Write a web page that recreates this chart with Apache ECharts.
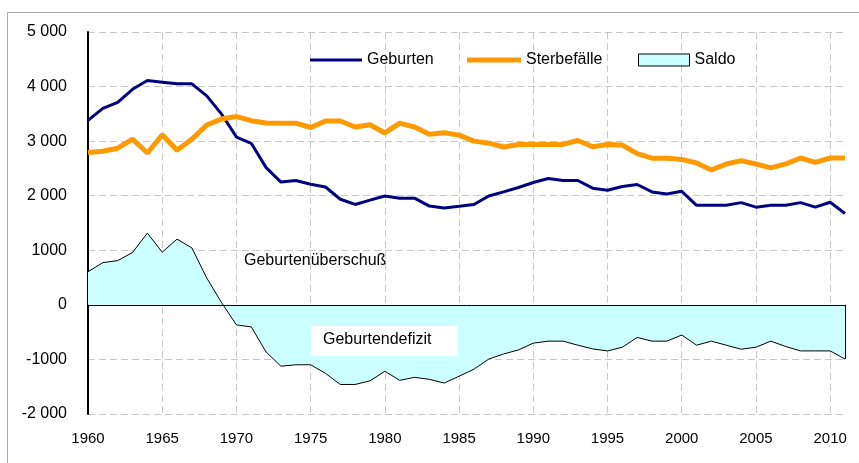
<!DOCTYPE html>
<html style="height: 100%">
<head>
<meta charset="utf-8">
<title>Geburten und Sterbefälle</title>
<script src="https://cdn.jsdelivr.net/npm/echarts@6/dist/echarts.min.js"></script>
</head>
<body style="height: 100%; margin: 0; background: #fff">
<div id="target" style="width: 859px; height: 463px"></div>
<script>
const years = Array.from({ length: 52 }, (_, i) => String(1960 + i));

const geburten = [
    3380, 3600, 3710, 3950, 4110, 4080, 4050, 4050, 3830, 3495,
    3075, 2960, 2515, 2250, 2280, 2210, 2160, 1935, 1840, 1920,
    1995, 1955, 1955, 1810, 1775, 1805, 1838, 1996, 2070, 2150,
    2242, 2315, 2279, 2279, 2138, 2101, 2169, 2205, 2070, 2030,
    2080, 1824, 1824, 1824, 1873, 1790, 1824, 1824, 1873, 1790,
    1880, 1675
];

const sterbefaelle = [
    2790, 2815, 2870, 3037, 2783, 3117, 2833, 3037, 3296, 3407,
    3450, 3375, 3333, 3330, 3330, 3250, 3370, 3370, 3260, 3300,
    3150, 3330, 3260, 3125, 3155, 3110, 3000, 2964, 2892, 2940,
    2940, 2940, 2940, 3012, 2898, 2940, 2928, 2771, 2687, 2687,
    2665, 2600, 2473, 2582, 2642, 2582, 2509, 2582, 2691, 2611,
    2691, 2691
];

const saldo = [
    607, 774, 811, 959, 1315, 965, 1204, 1043, 493, 40,
    -367, -404, -865, -1124, -1098, -1098, -1255, -1459, -1459, -1392,
    -1217, -1383, -1328, -1365, -1433, -1308, -1180, -994, -900, -826,
    -702, -665, -665, -739, -807, -844, -776, -597, -665, -665,
    -553, -739, -665, -739, -813, -776, -665, -763, -844, -844,
    -844, -994
];

const yTickLabels = ['-2 000', '-1000', '0', '1000', '2 000', '3 000', '4 000', '5 000'];
const yMin = -2000;
const yMax = 5000;
const yStep = 1000;

const FONT = '"Liberation Sans", Arial, sans-serif';
const gridLine = { show: true, lineStyle: { color: '#c8c8c8', width: 1, type: [7, 4] } };

let chart = echarts.init(document.getElementById('target'));

let option = {
    animation: false,
    backgroundColor: '#fff',
    textStyle: { fontFamily: FONT, color: '#000' },
    grid: { left: 88, right: 14, top: 32, bottom: 49, containLabel: false },
    xAxis: {
        type: 'category',
        data: years,
        boundaryGap: false,
        axisLine: { show: false },
        axisTick: { show: false },
        axisLabel: { interval: 4, fontSize: 15, color: '#000', margin: 17, fontFamily: FONT },
        splitLine: Object.assign({ interval: 4 }, gridLine),
    },
    yAxis: {
        type: 'value',
        min: yMin,
        max: yMax,
        interval: yStep,
        axisLine: { show: true, lineStyle: { color: '#000', width: 2 } },
        axisTick: { show: false },
        axisLabel: {
            fontSize: 16, color: '#000', margin: 21, fontFamily: FONT,
            formatter: v => yTickLabels[Math.round((v - yMin) / yStep)],
        },
        splitLine: gridLine,
    },
    legend: [
        {
            left: 310, top: 52, padding: 0, itemWidth: 52, itemHeight: 3, itemGap: 0,
            icon: 'rect', textStyle: { fontSize: 16, fontFamily: FONT, color: '#000' },
            data: ['Geburten'],
        },
        {
            left: 467, top: 52, padding: 0, itemWidth: 54, itemHeight: 5, itemGap: 0,
            icon: 'rect', textStyle: { fontSize: 16, fontFamily: FONT, color: '#000' },
            data: ['Sterbefälle'],
        },
        {
            left: 638, top: 52, padding: 0, itemWidth: 51, itemHeight: 12, itemGap: 0,
            icon: 'rect', textStyle: { fontSize: 16, fontFamily: FONT, color: '#000' },
            data: [{ name: 'Saldo', itemStyle: { color: '#ccffff', borderColor: '#000', borderWidth: 1 } }],
        },
    ],
    series: [
        {
            name: 'Saldo',
            type: 'line',
            data: saldo,
            symbol: 'none',
            z: 1,
            itemStyle: { color: '#ccffff' },
            lineStyle: { color: '#000', width: 1 },
            areaStyle: { color: '#ccffff', opacity: 1 },
            markLine: {
                silent: true,
                symbol: 'none',
                label: { show: false },
                lineStyle: { color: '#000', width: 1, type: 'solid' },
                data: [
                    { yAxis: 0 },
                    [
                        { coord: [years[years.length - 1], 0] },
                        { coord: [years[years.length - 1], saldo[saldo.length - 1]] },
                    ],
                ],
            },
        },
        {
            name: 'Geburten',
            type: 'line',
            data: geburten,
            symbol: 'none',
            z: 3,
            itemStyle: { color: '#000080' },
            lineStyle: { color: '#000080', width: 3 },
        },
        {
            name: 'Sterbefälle',
            type: 'line',
            data: sterbefaelle,
            symbol: 'none',
            z: 4,
            itemStyle: { color: '#ff9900' },
            lineStyle: { color: '#ff9900', width: 5 },
        },
    ],
    graphic: [
        {
            type: 'rect', left: 5, top: 10, silent: true, z: -10,
            shape: { width: 900, height: 500 },
            style: { fill: 'none', stroke: '#a8a8a8', lineWidth: 1 },
        },
        {
            type: 'text', left: 244, top: 253, z: 10,
            style: { text: 'Geburtenüberschuß', font: '16px ' + FONT, fill: '#000' },
        },
        {
            type: 'rect', left: 311, top: 326, z: 10,
            shape: { width: 147, height: 30 },
            style: { fill: '#fff' },
        },
        {
            type: 'text', left: 323, top: 332, z: 11,
            style: { text: 'Geburtendefizit', font: '16px ' + FONT, fill: '#000' },
        },
    ],
};

chart.setOption(option);
</script>
</body>
</html>
